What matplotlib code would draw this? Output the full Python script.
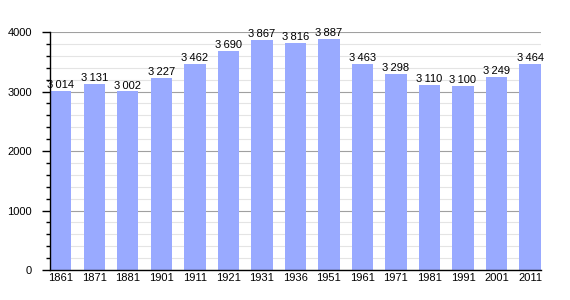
import matplotlib.pyplot as plt
from matplotlib.ticker import MultipleLocator

years = ['1861', '1871', '1881', '1901', '1911', '1921', '1931', '1936',
         '1951', '1961', '1971', '1981', '1991', '2001', '2011']
population = [3014, 3131, 3002, 3227, 3462, 3690, 3867, 3816,
              3887, 3463, 3298, 3110, 3100, 3249, 3464]

fig = plt.figure(figsize=(5.7, 3.0), dpi=100)
ax = fig.add_axes([0.0877, 0.1, 0.861, 0.793])

w = 0.64
x = range(len(years))
ax.bar(x, population, width=w, color='#99aaff', zorder=2)

for i, v in enumerate(population):
    label = f"{v:,}".replace(',', '\u2009')
    ax.text(i, v + 15, label, ha='center', va='bottom', fontsize=8,
            family='Liberation Sans', zorder=3)

ax.set_xlim(-w / 2, len(years) - 1 + w / 2)
ax.set_ylim(0, 4000)
ax.set_xticks(list(x))
ax.set_xticklabels(years, fontsize=8, family='Liberation Sans')
ax.yaxis.set_major_locator(MultipleLocator(1000))
ax.yaxis.set_minor_locator(MultipleLocator(200))
ax.tick_params(axis='y', which='major', labelsize=8, length=6, width=1,
               direction='out', pad=7)
ax.tick_params(axis='y', which='minor', length=3, width=1, direction='out')
ax.tick_params(axis='x', length=0, pad=2)
for lab in ax.get_yticklabels():
    lab.set_family('Liberation Sans')

ax.grid(axis='y', which='major', color='#a0a0a0', linewidth=0.8, zorder=0)
ax.grid(axis='y', which='minor', color='#e4e4e4', linewidth=0.8, zorder=0)
for s in ['top', 'right']:
    ax.spines[s].set_visible(False)
ax.spines['left'].set_linewidth(1)
ax.spines['bottom'].set_linewidth(1)

fig.savefig('out.png', dpi=100)
